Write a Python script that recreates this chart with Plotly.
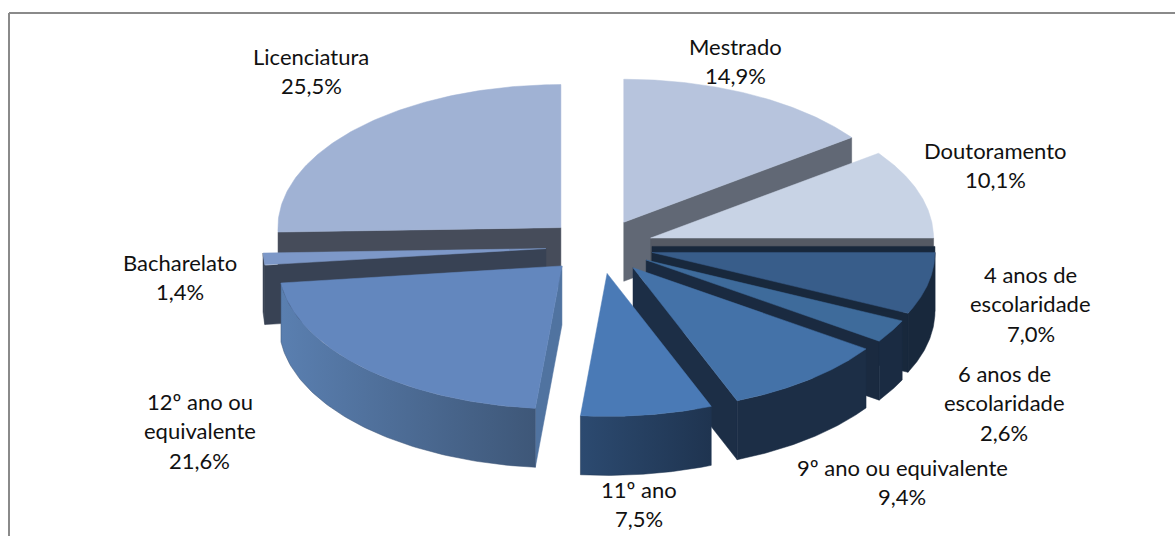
import numpy as np
import plotly.graph_objects as go

# Share of respondents by education level, clockwise from twelve o'clock
categories = ["Mestrado", "Doutoramento", "4 anos de escolaridade", "6 anos de escolaridade",
              "9º ano ou equivalente", "11º ano", "12º ano ou equivalente", "Bacharelato", "Licenciatura"]
shares = [14.9, 10.1, 7.0, 2.6, 9.4, 7.5, 21.6, 1.4, 25.5]
label_lines = [["Mestrado"], ["Doutoramento"], ["4 anos de", "escolaridade"],
               ["6 anos de", "escolaridade"], ["9º ano ou equivalente"], ["11º ano"],
               ["12º ano ou", "equivalente"], ["Bacharelato"], ["Licenciatura"]]

# Pie projection, in plot units
CX, CY, RX, RY = 599.5, 246.5, 283.0, 143.0
EXPLODE = 0.19
DEPTH = 59.0

TOP = ["#B7C4DD", "#C8D3E5", "#385D8A", "#3E6B9B", "#4472A8", "#4A7AB6", "#6387BE", "#7D98C8", "#A0B2D4"]
RADIAL = ["#616875", "#555A64", "#18283C", "#1A2A40", "#1C2E46", "#1E3350", "#5073A0", "#384254", "#464C5A"]
OUTER = [None, None, ("#18283C", "#18283C"), ("#1A2B42", "#1A2B42"), ("#1C2E46", "#1C2E46"),
         ("#2C4A70", "#1F3450"), ("#5A7FB0", "#3E5778"), ("#384254", "#384254"), None]
LABEL_CENTRES = [(735, 46), (995, 150), (1030.5, 274), (1004, 373), (902, 467),
                 (639, 489), (199.5, 401), (180, 262), (311, 56)]
LINE_STEP = 29.5
PAINT_ORDER = [8, 0, 1, 7, 2, 6, 3, 4, 5]

fractions = np.array(shares) / sum(shares)
ends = np.cumsum(fractions) * 2 * np.pi
starts = ends - fractions * 2 * np.pi


def project(t, apex, depth=0.0):
    return apex[0] + RX * np.sin(t), apex[1] - RY * np.cos(t) + depth


def add_poly(fig, xs, ys, colour=None, gradient=None):
    trace = dict(x=list(xs) + [xs[0]], y=list(ys) + [ys[0]], mode="lines", fill="toself",
                 line=dict(width=0.5, color=colour or gradient[1]), hoverinfo="skip", showlegend=False)
    if gradient:
        trace["fillgradient"] = dict(type="horizontal", colorscale=[[0, gradient[0]], [1, gradient[1]]])
    else:
        trace["fillcolor"] = colour
    fig.add_trace(go.Scatter(**trace))


def radial_wall(fig, t, apex, colour, lift=0.0):
    ox, oy = project(t, apex)
    add_poly(fig, [apex[0], ox, ox, apex[0]],
             [apex[1] - lift, oy - lift, oy + DEPTH, apex[1] + DEPTH], colour)


fig = go.Figure()

for i in PAINT_ORDER:
    t0, t1 = starts[i], ends[i]
    mid = (t0 + t1) / 2
    apex = (CX + EXPLODE * RX * np.sin(mid), CY - EXPLODE * RY * np.cos(mid))

    # Radial faces turned towards the viewer
    if np.sin(t1) > 0.01:
        radial_wall(fig, t1, apex, RADIAL[i])
    if np.sin(t0) < -0.01:
        radial_wall(fig, t0, apex, RADIAL[i])
    if abs(t0 - np.pi / 2) < 0.01:
        radial_wall(fig, t0, apex, RADIAL[i], lift=6)

    # Rim on the near half of the pie
    a, b = max(t0, np.pi / 2), min(t1, 3 * np.pi / 2)
    if a < b and OUTER[i]:
        arc = np.linspace(a, b, 80)
        tx, ty = project(arc, apex)
        bx, by = project(arc, apex, DEPTH)
        add_poly(fig, np.r_[tx, bx[::-1]], np.r_[ty, by[::-1]], gradient=OUTER[i])

    # Top face
    arc = np.linspace(t0, t1, 120)
    tx, ty = project(arc, apex)
    add_poly(fig, np.r_[apex[0], tx], np.r_[apex[1], ty], TOP[i])

annotations = []
for lines, share, centre in zip(label_lines, shares, LABEL_CENTRES):
    rows = lines + [f"{share:.1f}%".replace(".", ",")]
    for k, row in enumerate(rows):
        annotations.append(dict(x=centre[0], y=centre[1] + k * LINE_STEP, text=row, showarrow=False,
                                xanchor="center", yanchor="middle",
                                font=dict(family="Lato", size=22, color="#111111")))

# Chart frame: only the top and left edges fall inside the page
frame = dict(type="line", xref="x", yref="y", line=dict(color="#8a8a8a", width=2))
fig.update_layout(
    width=1175, height=536, margin=dict(l=0, r=0, t=0, b=0),
    paper_bgcolor="white", plot_bgcolor="white", showlegend=False,
    xaxis=dict(range=[0, 1175], visible=False, fixedrange=True),
    yaxis=dict(range=[536, 0], visible=False, fixedrange=True),
    annotations=annotations,
    shapes=[dict(frame, x0=9, y0=13, x1=1175, y1=13), dict(frame, x0=9, y0=13, x1=9, y1=536)],
)
fig.write_html("out.html", config=dict(displayModeBar=False))
